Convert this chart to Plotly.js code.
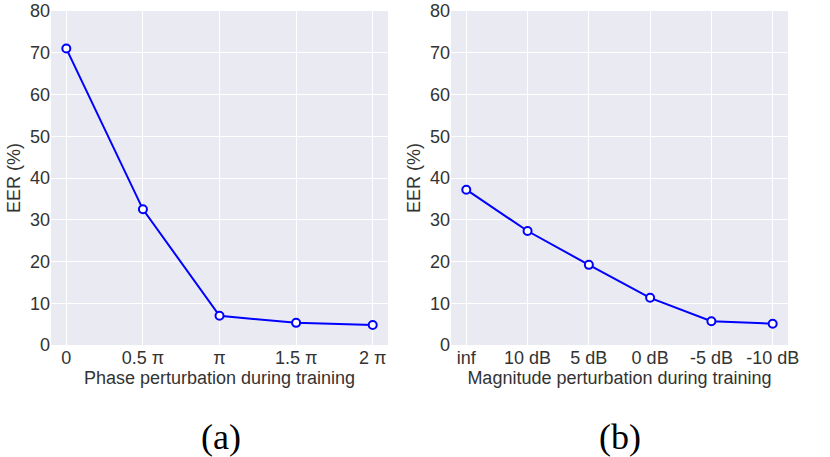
<!DOCTYPE html>
<html>
<head>
<meta charset="utf-8">
<script src="https://cdn.plot.ly/plotly-3.0.1.min.js"></script>
<style>
  body { margin: 0; background: #fff; }
  #chart { width: 830px; height: 457px; }
</style>
</head>
<body>
<div id="chart"></div>
<script>
// panel (a): phase perturbation
var phase_labels = ['0', '0.5 π', 'π', '1.5 π', '2 π'];
var phase_eer = [71.0, 32.5, 7.0, 5.3, 4.8];

// panel (b): magnitude perturbation
var mag_labels = ['inf', '10 dB', '5 dB', '0 dB', '-5 dB', '-10 dB'];
var mag_eer = [37.2, 27.3, 19.2, 11.3, 5.7, 5.1];

var y_ticks = [0, 10, 20, 30, 40, 50, 60, 70, 80];

var text_color = '#333333';
var font_family = '"Liberation Sans", Arial, Helvetica, sans-serif';

function line_trace(labels, values, xa, ya) {
    return {
        type: 'scatter',
        mode: 'lines+markers',
        x: labels.map(function (l, i) { return i; }),
        y: values,
        xaxis: xa,
        yaxis: ya,
        line: { color: '#0000ff', width: 2 },
        marker: {
            symbol: 'circle',
            size: 8,
            color: '#ffffff',
            line: { color: '#0000ff', width: 2 }
        },
        showlegend: false,
        hoverinfo: 'skip'
    };
}

var data = [
    line_trace(phase_labels, phase_eer, 'x', 'y'),
    line_trace(mag_labels, mag_eer, 'x2', 'y2')
];

function x_axis(labels, domain, anchor, title, pad) {
    return {
        domain: domain,
        anchor: anchor,
        range: [-pad, labels.length - 1 + pad],
        tickvals: labels.map(function (l, i) { return i; }),
        ticktext: labels,
        showgrid: true,
        gridcolor: '#ffffff',
        gridwidth: 1,
        zeroline: false,
        showline: false,
        ticks: '',
        ticklen: 0,
        tickfont: { size: 18, color: text_color },
        title: { text: title, font: { size: 18, color: text_color }, standoff: 2 }
    };
}

function y_axis(anchor) {
    return {
        anchor: anchor,
        range: [0, 80],
        tickvals: y_ticks,
        showgrid: true,
        gridcolor: '#ffffff',
        gridwidth: 1,
        zeroline: false,
        showline: false,
        ticks: '',
        tickfont: { size: 18, color: text_color },
        title: { text: 'EER (%)', font: { size: 18, color: text_color }, standoff: 4 }
    };
}

var layout = {
    width: 830,
    height: 457,
    margin: { l: 51, r: 42, t: 11, b: 112 },
    paper_bgcolor: '#ffffff',
    plot_bgcolor: '#eaeaf2',
    font: { family: font_family, color: text_color },
    xaxis: x_axis(phase_labels, [0, 0.4573], 'y', 'Phase perturbation during training', 0.2),
    yaxis: y_axis('x'),
    xaxis2: x_axis(mag_labels, [0.5427, 1], 'y2', 'Magnitude perturbation during training', 0.25),
    yaxis2: y_axis('x2'),
    annotations: [
        {
            text: '(a)', xref: 'paper', yref: 'paper', x: 0.2307, y: -0.275,
            xanchor: 'center', yanchor: 'middle', showarrow: false,
            font: { family: '"Liberation Serif", "Times New Roman", serif', size: 36, color: '#000000' }
        },
        {
            text: '(b)', xref: 'paper', yref: 'paper', x: 0.772, y: -0.275,
            xanchor: 'center', yanchor: 'middle', showarrow: false,
            font: { family: '"Liberation Serif", "Times New Roman", serif', size: 36, color: '#000000' }
        }
    ]
};

var config = { displayModeBar: false, staticPlot: true };
Plotly.newPlot('chart', data, layout, config);
</script>
</body>
</html>
